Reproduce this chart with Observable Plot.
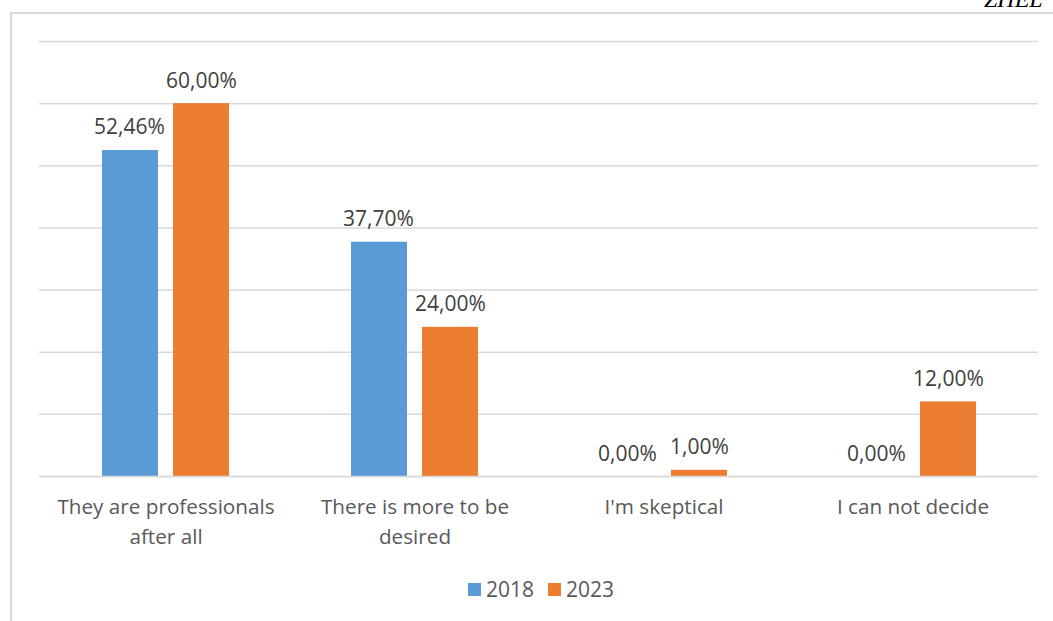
<!DOCTYPE html>
<html>
<head>
<meta charset="utf-8">
<script src="https://cdn.jsdelivr.net/npm/d3@7"></script>
<script src="https://cdn.jsdelivr.net/npm/@observablehq/plot@0.6"></script>
<style>
  html, body { margin: 0; padding: 0; background: #fff; overflow: hidden; }
  body { width: 1053px; height: 621px; position: relative; font-family: "Open Sans", sans-serif; }
  #frame { position: absolute; left: 10px; top: 12px; width: 1100px; height: 700px; border-left: 2px solid #d9d9d9; border-top: 2px solid #d9d9d9; box-sizing: border-box; }
  #chart { position: absolute; left: 0; top: 0; }
  #corner { position: absolute; left: 984px; top: -14px; font: italic 24px "Liberation Serif", serif; color: #000; white-space: nowrap; }
  #legend { position: absolute; left: 0; width: 1082px; top: 575px; display: flex; justify-content: center; gap: 14px; font-size: 21px; color: #595959; }
  #legend span.item { display: flex; align-items: center; gap: 5px; }
  #legend span.sw { width: 13px; height: 13px; display: inline-block; }
</style>
</head>
<body>
<div id="frame"></div>
<div id="corner">ZHEL</div>
<div id="chart"></div>
<div id="legend"></div>
<script>
const categories = ["They are professionals after all", "There is more to be desired", "I'm skeptical", "I can not decide"];
const tickLabels = ["They are professionals\nafter all", "There is more to be\ndesired", "I'm skeptical", "I can not decide"];
const years = ["2018", "2023"];
const values2018 = [52.46, 37.70, 0.00, 0.00];
const values2023 = [60.00, 24.00, 1.00, 12.00];
const colors = ["#5B9BD5", "#ED7D31"];
const yTicks = [0, 10, 20, 30, 40, 50, 60, 70];

const d2018 = categories.map((c, i) => ({category: c, value: values2018[i]}));
const d2023 = categories.map((c, i) => ({category: c, value: values2023[i]}));
const fmt = v => v.toFixed(2).replace(".", ",") + "%";

const chart = Plot.plot({
  width: 1053,
  height: 560,
  marginLeft: 39,
  marginRight: 15,
  marginTop: 41,
  marginBottom: 84,
  style: {fontFamily: "'Open Sans', sans-serif", background: "transparent"},
  x: {domain: categories, paddingInner: 0.4915, paddingOuter: 0.2457, label: null},
  y: {domain: [0, 70], axis: null},
  marks: [
    Plot.ruleY(yTicks, {stroke: "#d9d9d9", strokeWidth: 1.5}),
    Plot.barY(d2018, {x: "category", y: "value", fill: colors[0], insetRight: 71}),
    Plot.barY(d2023, {x: "category", y: "value", fill: colors[1], insetLeft: 71}),
    Plot.text(d2018, {x: "category", y: "value", text: d => fmt(d.value), dx: -36.5, dy: -16, lineAnchor: "bottom", fill: "#404040", fontSize: 21}),
    Plot.text(d2023, {x: "category", y: "value", text: d => fmt(d.value), dx: 35.5, dy: -16, lineAnchor: "bottom", fill: "#404040", fontSize: 21}),
    Plot.axisX({tickSize: 0, tickPadding: 16, tickFormat: (d, i) => tickLabels[categories.indexOf(d)], fontSize: 20.7, fill: "#595959", lineHeight: 1.45, label: null}),
    Plot.ruleY([0], {stroke: "#d9d9d9", strokeWidth: 1.5})
  ]
});
document.getElementById("chart").appendChild(chart);

const legend = document.getElementById("legend");
years.forEach((y, i) => {
  const item = document.createElement("span");
  item.className = "item";
  item.innerHTML = `<span class="sw" style="background:${colors[i]}"></span><span>${y}</span>`;
  legend.appendChild(item);
});
</script>
</body>
</html>
